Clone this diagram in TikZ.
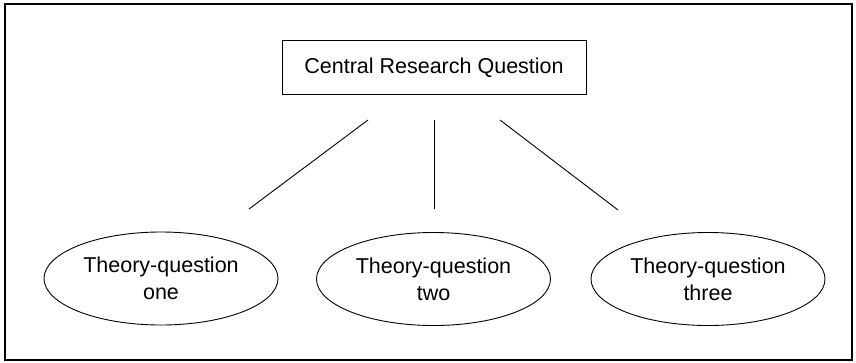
\documentclass[tikz,border=0pt]{standalone}
\usepackage{fontspec}
\setmainfont{Liberation Sans}
\usetikzlibrary{shapes.geometric}
\begin{document}
\begin{tikzpicture}[x=1pt,y=-1pt,
  qbox/.style={draw,line width=1pt,minimum width=304pt,minimum height=54pt,inner sep=0pt,font=\fontsize{21.5}{27}\selectfont},
  qell/.style={draw,ellipse,line width=0.9pt,minimum width=234pt,minimum height=93pt,inner sep=0pt,align=center,font=\fontsize{21.5}{27}\selectfont},
  link/.style={line width=0.9pt}]
  \useasboundingbox (0,0) rectangle (856,362);
  \fill[white] (0,0) rectangle (856,362);
  \draw[line width=2pt] (5,4) rectangle (852,360);

  \node[qbox] (crq) at (434,67.5) {Central Research Question};

  \node[qell] (t1) at (161,278.5) {Theory-question\\one};
  \node[qell] (t2) at (433.5,279) {Theory-question\\two};
  \node[qell] (t3) at (708,279) {Theory-question\\three};

  \coordinate (a1) at (368,120);
  \coordinate (b1) at (249,209);
  \coordinate (a2) at (434,120);
  \coordinate (b2) at (434,209);
  \coordinate (a3) at (500,120);
  \coordinate (b3) at (618,210);
  \draw[link] (a1) -- (b1);
  \draw[link] (a2) -- (b2);
  \draw[link] (a3) -- (b3);
\end{tikzpicture}
\end{document}
